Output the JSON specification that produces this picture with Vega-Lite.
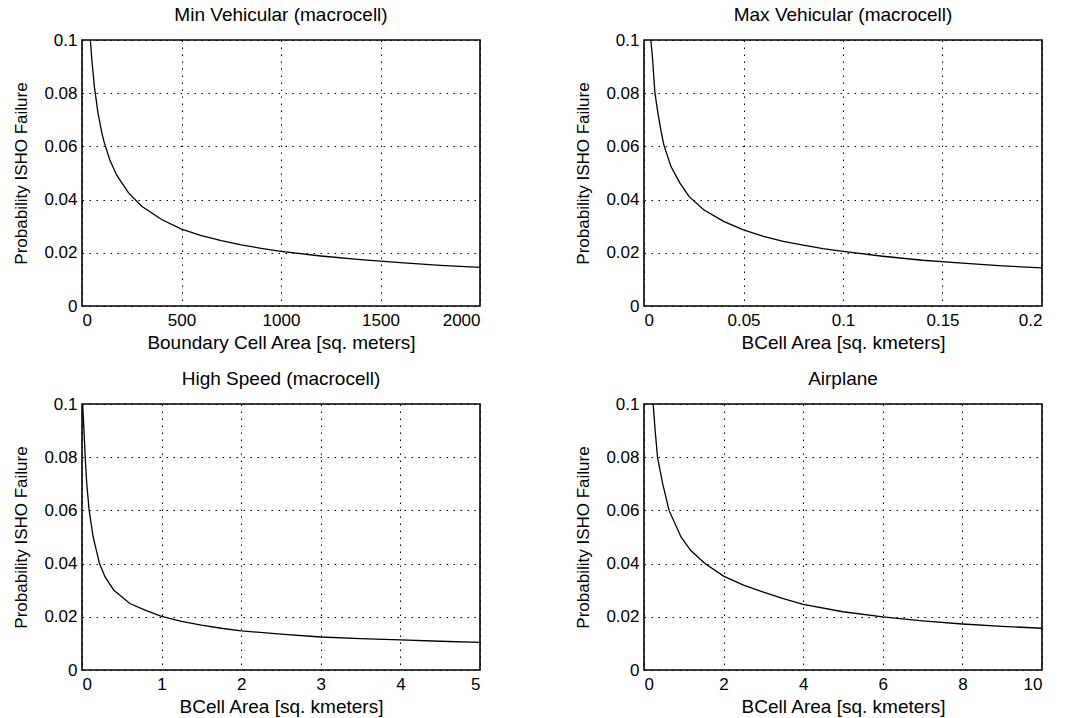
{
  "$schema": "https://vega.github.io/schema/vega-lite/v6.json",
  "background": "white",
  "padding": {"left": 12, "top": 5, "right": 5, "bottom": 3},
  "columns": 2,
  "spacing": {"row": 98, "column": 164},
  "bounds": "flush",
  "config": {
    "font": "Liberation Sans",
    "view": {"stroke": "black", "strokeWidth": 1.6},
    "axis": {
      "grid": true,
      "gridColor": "black",
      "gridDash": [1.5, 5.5],
      "gridWidth": 1,
      "gridOpacity": 1,
      "domain": false,
      "ticks": false,
      "labelFont": "Liberation Sans",
      "labelFontSize": 17,
      "labelColor": "black",
      "labelPadding": 5,
      "titleFont": "Liberation Sans",
      "titleFontSize": 19,
      "titleFontWeight": "normal",
      "titleColor": "black",
      "format": "~f"
    },
    "axisX": {"titlePadding": 5, "labelPadding": 6},
    "axisY": {"titlePadding": 13, "titleFontSize": 17},
    "title": {"font": "Liberation Sans", "fontSize": 19, "fontWeight": "normal", "color": "black", "offset": 6}
  },
  "datasets": {
    "minveh": [
      {"area": 42, "p": 0.1}, {"area": 50, "p": 0.092}, {"area": 63, "p": 0.082}, {"area": 80, "p": 0.0727},
      {"area": 100, "p": 0.065}, {"area": 112, "p": 0.0614}, {"area": 140, "p": 0.0549}, {"area": 175, "p": 0.0491},
      {"area": 234, "p": 0.0425}, {"area": 300, "p": 0.0375}, {"area": 400, "p": 0.0325}, {"area": 500, "p": 0.0289},
      {"area": 600, "p": 0.0265}, {"area": 700, "p": 0.0246}, {"area": 800, "p": 0.023}, {"area": 900, "p": 0.0217},
      {"area": 1000, "p": 0.0205}, {"area": 1200, "p": 0.0188}, {"area": 1400, "p": 0.0174}, {"area": 1600, "p": 0.0163},
      {"area": 1800, "p": 0.0153}, {"area": 2000, "p": 0.0145}
    ],
    "maxveh": [
      {"area": 0.0034, "p": 0.1}, {"area": 0.0042, "p": 0.094}, {"area": 0.0055, "p": 0.08}, {"area": 0.007, "p": 0.0725},
      {"area": 0.0085, "p": 0.066}, {"area": 0.01, "p": 0.0605}, {"area": 0.0135, "p": 0.0525}, {"area": 0.018, "p": 0.0463},
      {"area": 0.0226, "p": 0.0412}, {"area": 0.03, "p": 0.0362}, {"area": 0.04, "p": 0.0318}, {"area": 0.05, "p": 0.0286},
      {"area": 0.06, "p": 0.0262}, {"area": 0.07, "p": 0.0243}, {"area": 0.08, "p": 0.0229}, {"area": 0.09, "p": 0.0216},
      {"area": 0.1, "p": 0.0205}, {"area": 0.12, "p": 0.0187}, {"area": 0.14, "p": 0.0172}, {"area": 0.16, "p": 0.0161},
      {"area": 0.18, "p": 0.0151}, {"area": 0.2, "p": 0.0143}
    ],
    "highspeed": [
      {"area": 0.008, "p": 0.1}, {"area": 0.025, "p": 0.09}, {"area": 0.04, "p": 0.08}, {"area": 0.06, "p": 0.07},
      {"area": 0.09, "p": 0.06}, {"area": 0.14, "p": 0.05}, {"area": 0.22, "p": 0.04}, {"area": 0.29, "p": 0.035},
      {"area": 0.4, "p": 0.03}, {"area": 0.5, "p": 0.0275}, {"area": 0.6, "p": 0.025}, {"area": 0.8, "p": 0.0224},
      {"area": 1.0, "p": 0.0202}, {"area": 1.25, "p": 0.0183}, {"area": 1.5, "p": 0.0169}, {"area": 1.75, "p": 0.0157},
      {"area": 2.0, "p": 0.0147}, {"area": 2.5, "p": 0.0135}, {"area": 3.0, "p": 0.0124}, {"area": 3.5, "p": 0.0118},
      {"area": 4.0, "p": 0.0113}, {"area": 4.5, "p": 0.0108}, {"area": 5.0, "p": 0.0104}
    ],
    "airplane": [
      {"area": 0.23, "p": 0.1}, {"area": 0.28, "p": 0.09}, {"area": 0.34, "p": 0.08}, {"area": 0.47, "p": 0.07},
      {"area": 0.63, "p": 0.06}, {"area": 0.93, "p": 0.05}, {"area": 1.17, "p": 0.045}, {"area": 1.53, "p": 0.04},
      {"area": 2.0, "p": 0.0353}, {"area": 2.5, "p": 0.0319}, {"area": 3.0, "p": 0.0293}, {"area": 3.5, "p": 0.0268},
      {"area": 4.0, "p": 0.0247}, {"area": 5.0, "p": 0.0219}, {"area": 6.0, "p": 0.02}, {"area": 7.0, "p": 0.0185},
      {"area": 8.0, "p": 0.0173}, {"area": 9.0, "p": 0.0164}, {"area": 10.0, "p": 0.0157}
    ]
  },
  "concat": [
    {
      "title": "Min Vehicular (macrocell)",
      "width": 398, "height": 266,
      "data": {"name": "minveh"},
      "mark": {"type": "line", "color": "black", "strokeWidth": 1.3, "clip": true},
      "encoding": {
        "x": {"field": "area", "type": "quantitative", "scale": {"domain": [0, 2000], "nice": false},
              "axis": {"title": "Boundary Cell Area [sq. meters]", "values": [0, 500, 1000, 1500, 2000]}},
        "y": {"field": "p", "type": "quantitative", "scale": {"domain": [0, 0.1], "nice": false},
              "axis": {"title": "Probability ISHO Failure", "values": [0, 0.02, 0.04, 0.06, 0.08, 0.1]}}
      }
    },
    {
      "title": "Max Vehicular (macrocell)",
      "width": 398, "height": 266,
      "data": {"name": "maxveh"},
      "mark": {"type": "line", "color": "black", "strokeWidth": 1.3, "clip": true},
      "encoding": {
        "x": {"field": "area", "type": "quantitative", "scale": {"domain": [0, 0.2], "nice": false},
              "axis": {"title": "BCell Area [sq. kmeters]", "values": [0, 0.05, 0.1, 0.15, 0.2]}},
        "y": {"field": "p", "type": "quantitative", "scale": {"domain": [0, 0.1], "nice": false},
              "axis": {"title": "Probability ISHO Failure", "values": [0, 0.02, 0.04, 0.06, 0.08, 0.1]}}
      }
    },
    {
      "title": "High Speed (macrocell)",
      "width": 398, "height": 266,
      "data": {"name": "highspeed"},
      "mark": {"type": "line", "color": "black", "strokeWidth": 1.3, "clip": true},
      "encoding": {
        "x": {"field": "area", "type": "quantitative", "scale": {"domain": [0, 5], "nice": false},
              "axis": {"title": "BCell Area [sq. kmeters]", "values": [0, 1, 2, 3, 4, 5]}},
        "y": {"field": "p", "type": "quantitative", "scale": {"domain": [0, 0.1], "nice": false},
              "axis": {"title": "Probability ISHO Failure", "values": [0, 0.02, 0.04, 0.06, 0.08, 0.1]}}
      }
    },
    {
      "title": "Airplane",
      "width": 398, "height": 266,
      "data": {"name": "airplane"},
      "mark": {"type": "line", "color": "black", "strokeWidth": 1.3, "clip": true},
      "encoding": {
        "x": {"field": "area", "type": "quantitative", "scale": {"domain": [0, 10], "nice": false},
              "axis": {"title": "BCell Area [sq. kmeters]", "values": [0, 2, 4, 6, 8, 10]}},
        "y": {"field": "p", "type": "quantitative", "scale": {"domain": [0, 0.1], "nice": false},
              "axis": {"title": "Probability ISHO Failure", "values": [0, 0.02, 0.04, 0.06, 0.08, 0.1]}}
      }
    }
  ]
}
